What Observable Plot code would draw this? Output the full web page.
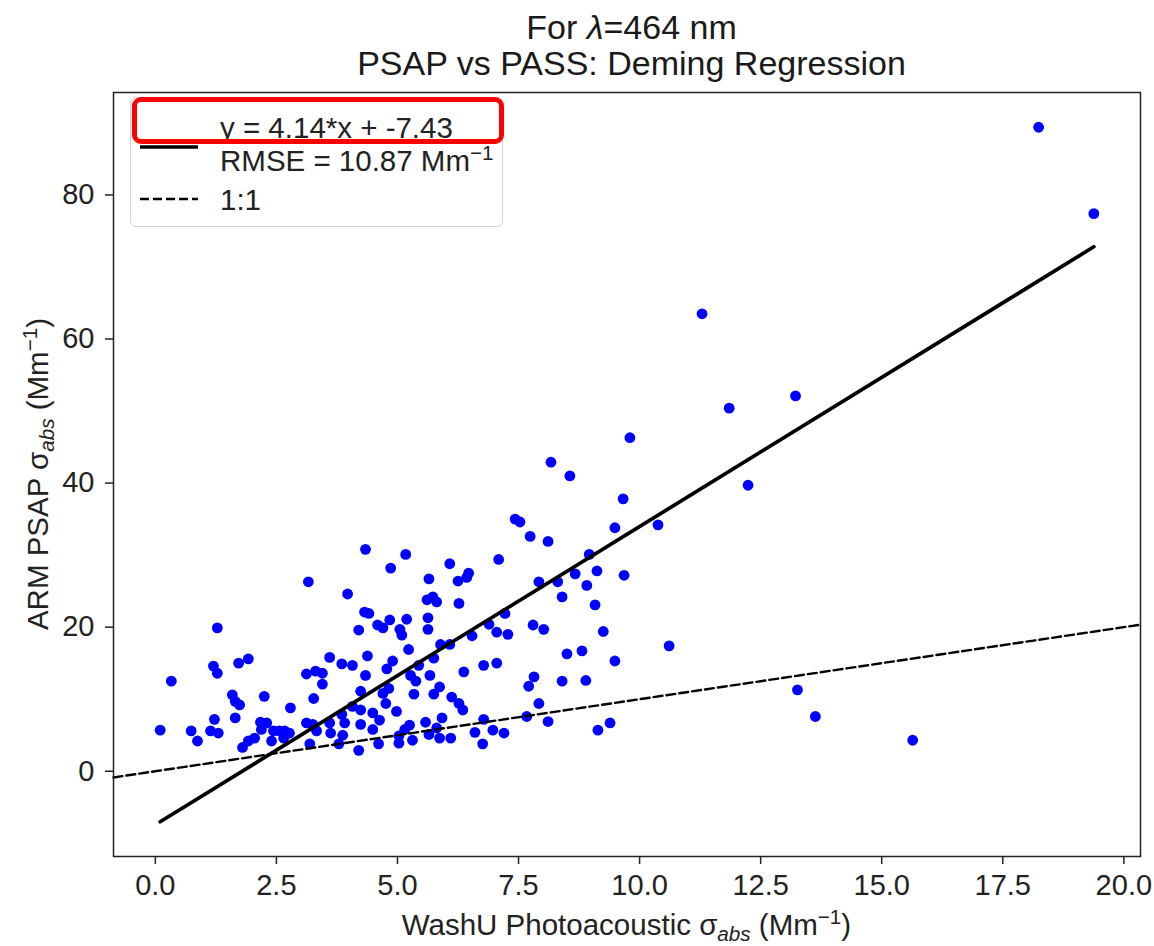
<!DOCTYPE html>
<html><head><meta charset="utf-8">
<script src="https://cdn.jsdelivr.net/npm/d3@7"></script>
<script src="https://cdn.jsdelivr.net/npm/@observablehq/plot@0.6"></script>
<style>
body{margin:0;background:#fff;font-family:"Liberation Sans",Arial,sans-serif;color:#1a1a1a;}
#wrap{position:relative;width:1154px;height:946px;overflow:hidden;background:#fff;}
.t{position:absolute;left:118px;width:1027px;text-align:center;font-size:34px;height:33px;line-height:33px;white-space:nowrap;}
#chart{position:absolute;left:0;top:84px;}
.lab{position:absolute;font-size:29.5px;white-space:nowrap;color:#222;}
.lab sub{font-size:0.7em;vertical-align:-0.3em;line-height:0;}
.lab sup{font-size:0.7em;vertical-align:0.55em;line-height:0;}
#legend{position:absolute;left:130px;top:97px;width:373px;height:130px;box-sizing:border-box;border:1.5px solid #d4d4d4;border-radius:6px;background:rgba(255,255,255,0.85);}
.lt{position:absolute;left:220px;font-size:29.5px;height:32px;line-height:32px;white-space:nowrap;color:#222;}
.lt sup{font-size:0.7em;vertical-align:0.55em;line-height:0;}
#hl{position:absolute;left:132px;top:97px;width:372px;height:47px;box-sizing:border-box;border:5px solid #ff0000;border-radius:9px;}
</style></head><body>
<div id="wrap">
  <div class="t" style="top:11px">For <i>λ</i>=464 nm</div>
  <div class="t" style="top:47px">PSAP vs PASS: Deming Regression</div>
  <div id="chart"></div>
  <div id="legend"></div>
  <svg id="legsvg" width="1154" height="946" style="position:absolute;left:0;top:0;pointer-events:none"></svg>
  <div class="lt" id="l1" style="top:112px"></div>
  <div class="lt" id="l2" style="top:145px"></div>
  <div class="lt" id="l3" style="top:184px"></div>
  <div id="hl"></div>
  <div class="lab" style="left:113px;width:1027px;top:909px;height:32px;line-height:32px;text-align:center">WashU Photoacoustic σ<sub><i>abs</i></sub> (Mm<sup>−1</sup>)</div>
  <div class="lab" style="left:38px;top:474px;transform:translate(-50%,-50%) rotate(-90deg);line-height:34px">ARM PSAP σ<sub><i>abs</i></sub> (Mm<sup>−1</sup>)</div>
</div>
<script>
// WashU photoacoustic absorption (x) and ARM PSAP absorption (y), Mm^-1
const washu = [
  0.10,0.33,0.74,0.87,1.14,1.30,1.20,1.28,1.28,1.22,
  1.59,1.65,1.74,1.65,1.72,1.92,1.80,1.92,2.05,2.17,
  2.30,2.19,2.25,2.40,2.44,2.56,2.67,2.77,2.65,2.79,
  3.12,3.31,3.45,3.45,3.16,3.27,3.12,3.25,3.33,3.19,
  3.60,3.85,4.07,3.60,3.62,3.85,3.91,3.87,3.79,3.97,
  4.20,4.32,4.41,4.34,4.38,4.34,4.24,4.07,4.24,4.24,
  4.20,
  4.59,4.70,4.84,5.05,5.09,5.19,5.63,5.63,4.86,5.17,
  5.65,6.08,6.25,6.47,6.43,5.61,5.73,5.81,6.27,7.09,
  7.22,6.89,7.05,7.28,6.54,5.89,6.08,5.23,
  5.75,5.44,4.90,4.78,6.78,7.05,6.37,5.67,5.27,5.38,
  4.82,4.70,4.76,5.87,5.75,5.34,6.12,6.27,6.35,4.98,
  4.49,4.63,4.49,5.92,5.58,5.25,5.15,6.78,5.81,5.65,
  5.87,6.10,6.60,6.97,7.20,5.03,5.03,5.31,4.61,6.76,
  7.53,7.43,7.74,8.11,9.49,7.92,8.31,8.67,8.96,9.12,
  8.91,8.40,9.08,7.80,8.02,9.25,8.50,8.81,9.49,7.82,
  7.71,8.40,8.89,7.92,7.67,8.11,9.14,9.39,
  9.80,8.17,8.56,9.66,10.38,9.68,10.61,13.26,13.63,15.64,
  11.29,11.85,13.22,12.24,18.24,19.38
];
const psap = [
  5.7,12.5,5.6,4.2,5.6,5.3,14.6,13.6,19.9,7.2,
  10.6,9.7,9.2,7.4,15.0,15.6,3.3,4.2,4.6,6.8,
  6.7,5.8,10.4,4.2,5.6,5.6,5.6,5.3,4.6,8.8,
  13.5,13.9,13.6,12.1,26.3,10.1,6.7,6.5,5.6,3.8,
  15.8,14.9,14.7,6.7,5.3,7.9,6.7,5.0,3.8,24.6,
  19.6,22.1,21.9,30.8,16.0,13.3,11.1,9.0,8.5,6.5,
  2.9,
  20.3,19.9,21.0,19.7,18.9,21.1,21.3,19.7,28.2,30.1,
  26.7,28.8,26.4,27.5,26.9,23.8,24.2,23.5,23.3,29.4,
  21.9,20.4,19.3,19.0,18.8,17.6,17.6,16.9,
  15.7,14.7,15.3,14.2,14.7,15.0,13.8,13.3,13.3,12.5,
  11.5,10.8,9.4,11.7,10.7,10.7,10.3,9.4,8.5,8.3,
  8.1,7.1,5.8,7.4,6.8,6.4,5.8,7.2,6.0,5.1,
  4.6,4.6,5.4,5.7,5.3,4.9,3.9,4.3,3.8,3.8,
  34.6,35.0,32.6,31.9,33.8,26.3,26.3,27.4,30.1,27.8,
  25.8,24.2,23.1,20.3,19.7,19.4,16.3,16.7,15.3,13.1,
  11.8,12.5,12.6,9.4,7.6,6.9,5.7,6.7,
  46.3,42.9,41.0,37.8,34.2,27.2,17.4,11.3,7.6,4.3,
  63.5,50.4,52.1,39.7,89.4,77.4
];
const slope = 4.14;
const intercept = -7.43;
const rmse = 10.87;
const xTicks = [0, 2.5, 5, 7.5, 10, 12.5, 15, 17.5, 20];
const yTicks = [0, 20, 40, 60, 80];

const points = washu.map((x, i) => ({x, y: psap[i]}));
const [xMin, xMax] = d3.extent(washu);
const fit = [xMin, xMax].map(x => ({x, y: slope * x + intercept}));
const yLo = Math.min(d3.min(psap), d3.min(fit, d => d.y));
const yHi = Math.max(d3.max(psap), d3.max(fit, d => d.y));
const xPad = (xMax - xMin) * 0.05, yPad = (yHi - yLo) * 0.05;
const xDomain = [xMin - xPad, xMax + xPad];
const yDomain = [yLo - yPad, yHi + yPad];
const oneToOne = xDomain.map(x => ({x, y: x}));

const chart = Plot.plot({
  width: 1154, height: 862,
  marginTop: 8, marginBottom: 90, marginLeft: 113, marginRight: 14,
  style: {fontFamily: '"Liberation Sans", Arial, sans-serif', color: "#222", background: "transparent", overflow: "visible"},
  x: {domain: xDomain},
  y: {domain: yDomain},
  marks: [
    Plot.dot(points, {x: "x", y: "y", r: 5.4, fill: "#0000ff", stroke: "none"}),
    Plot.line(oneToOne, {x: "x", y: "y", stroke: "#000", strokeWidth: 2.4, strokeDasharray: "9,4"}),
    Plot.line(fit, {x: "x", y: "y", stroke: "#000", strokeWidth: 3.7}),
    Plot.frame({stroke: "#222", strokeWidth: 1.5}),
    Plot.axisX({ticks: xTicks, tickFormat: d3.format(".1f"), tickSize: 8, tickPadding: 10, fontSize: 29, label: null, strokeWidth: 1.5}),
    Plot.axisY({ticks: yTicks, tickFormat: d3.format("d"), tickSize: 8, tickPadding: 11, fontSize: 29, label: null, strokeWidth: 1.5})
  ]
});
document.getElementById("chart").appendChild(chart);

// legend
document.getElementById("l1").textContent = `y = ${slope.toFixed(2)}*x + ${intercept.toFixed(2)}`;
document.getElementById("l2").innerHTML = `RMSE = ${rmse.toFixed(2)} Mm<sup>−1</sup>`;
document.getElementById("l3").textContent = "1:1";
const leg = d3.select("#legsvg");
leg.append("line").attr("x1", 140).attr("x2", 198).attr("y1", 147).attr("y2", 147)
  .attr("stroke", "#000").attr("stroke-width", 3.7);
leg.append("line").attr("x1", 140).attr("x2", 198).attr("y1", 199).attr("y2", 199)
  .attr("stroke", "#000").attr("stroke-width", 2.4).attr("stroke-dasharray", "9,4");
</script>
</body></html>
